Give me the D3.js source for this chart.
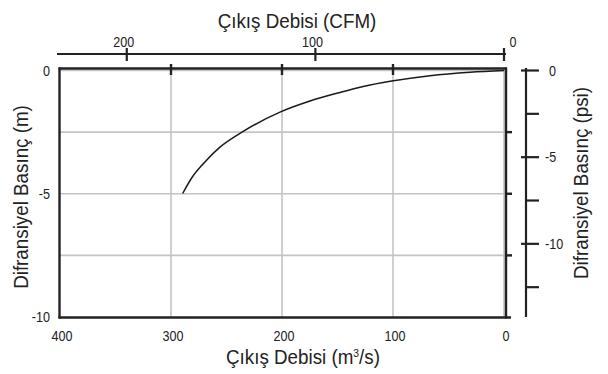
<!DOCTYPE html>
<html><head><meta charset="utf-8">
<script src="https://cdn.jsdelivr.net/npm/d3@7"></script>
<style>
body{margin:0;background:#fff;}
text{font-family:"Liberation Sans Narrow","Arial Narrow","Liberation Sans",sans-serif;fill:#222;}
</style></head><body>
<svg id="c" width="608" height="374"></svg>
<script>
// Data
const flow = [0, 30.6, 66.7, 101.2, 126.8, 147.7, 174.8, 201.8, 234.9, 255.9, 270.9, 280.5, 289.5]; // m3/s
const pressure = [0, -0.07, -0.21, -0.43, -0.65, -0.89, -1.24, -1.69, -2.47, -3.11, -3.78, -4.3, -4.99]; // m
const bottomTicks = [400, 300, 200, 100, 0];
const topTicks = [200, 100, 0];
const leftTicks = [0, -5, -10];
const rightMajor = [0, -5, -10];
const rightMinor = [-2.5, -7.5, -12.5];
const gridX = [300, 200, 100, 0];
const gridY = [0, -2.5, -5, -7.5];

const svg = d3.select("#c");
const x = d3.scaleLinear().domain([400, 0]).range([60, 504]);
const y = d3.scaleLinear().domain([0, -10]).range([70.5, 317]);
const xc = d3.scaleLinear().domain([235.4, 0]).range([60, 504]);
const yp = d3.scaleLinear().domain([0, -14.22]).range([70.5, 317]);
const TS = 0.84, HS = 0.94;
const lab = t => t === 0 ? "0" : (t < 0 ? "-" + Math.abs(t) : String(t));

// grid
svg.append("g").selectAll("line").data(gridX).join("line")
  .attr("x1", d => x(d)).attr("x2", d => x(d)).attr("y1", 68).attr("y2", 317)
  .attr("stroke", "#c4c4c4").attr("stroke-width", 1.6);
svg.append("g").selectAll("line").data(gridY).join("line")
  .attr("x1", 60).attr("x2", 505).attr("y1", d => y(d)).attr("y2", d => y(d))
  .attr("stroke", "#c4c4c4").attr("stroke-width", 1.6);

// curve
const pts = flow.map((f, i) => [f, pressure[i]]);
svg.append("path").datum(pts)
  .attr("d", d3.line().x(d => x(d[0])).y(d => y(d[1])).curve(d3.curveMonotoneX))
  .attr("fill", "none").attr("stroke", "#1a1a1a").attr("stroke-width", 1.5);

// frame
const fr = svg.append("g").attr("stroke", "#222").attr("stroke-width", 2.4).attr("fill", "none");
fr.append("line").attr("x1", 58.5).attr("x2", 507).attr("y1", 68.5).attr("y2", 68.5);
fr.append("line").attr("x1", 59.5).attr("x2", 59.5).attr("y1", 67.5).attr("y2", 318.5);
fr.append("line").attr("x1", 58.5).attr("x2", 511).attr("y1", 317.5).attr("y2", 317.5);
fr.append("line").attr("x1", 506).attr("x2", 506).attr("y1", 67.5).attr("y2", 318.5);
// frame ticks
svg.append("g").selectAll("line").data([300, 200, 100]).join("line")
  .attr("x1", d => x(d)).attr("x2", d => x(d)).attr("y1", 64).attr("y2", 75)
  .attr("stroke", "#222").attr("stroke-width", 2.4);
svg.append("g").selectAll("line").data([-2.5, -5, -7.5]).join("line")
  .attr("x1", 506).attr("x2", 512).attr("y1", d => y(d)).attr("y2", d => y(d))
  .attr("stroke", "#222").attr("stroke-width", 2.4);

// bottom tick labels
svg.append("g").selectAll("text").data(bottomTicks).join("text")
  .attr("transform", d => `translate(${x(d) + 2},341) scale(${TS},1)`).attr("text-anchor", "middle")
  .attr("font-size", 15).text(lab);
// left tick labels
svg.append("g").selectAll("text").data(leftTicks).join("text")
  .attr("transform", d => `translate(50,${y(d) + 5}) scale(${TS},1)`).attr("text-anchor", "end")
  .attr("font-size", 15).text(lab);

// top axis
const ta = svg.append("g");
ta.append("line").attr("x1", 57).attr("x2", 506).attr("y1", 54).attr("y2", 54)
  .attr("stroke", "#222").attr("stroke-width", 2.2);
ta.selectAll("line.t").data(topTicks).join("line").attr("class", "t")
  .attr("x1", d => xc(d)).attr("x2", d => xc(d)).attr("y1", 48).attr("y2", 61)
  .attr("stroke", "#222").attr("stroke-width", 2.2);
ta.selectAll("text").data(topTicks).join("text")
  .attr("transform", d => `translate(${xc(d) + (d === 0 ? 9 : -3)},46.5) scale(${TS},1)`).attr("text-anchor", "middle")
  .attr("font-size", 15).text(lab);
svg.append("text").attr("transform", `translate(297,27.5) scale(${HS},1)`).attr("text-anchor", "middle")
  .attr("font-size", 20).text("Çıkış Debisi (CFM)");

// right axis
const ra = svg.append("g");
ra.append("line").attr("x1", 526).attr("x2", 526).attr("y1", 68).attr("y2", 317)
  .attr("stroke", "#222").attr("stroke-width", 2.2);
ra.selectAll("line.mj").data(rightMajor).join("line").attr("class", "mj")
  .attr("x1", 521).attr("x2", 539).attr("y1", d => yp(d)).attr("y2", d => yp(d))
  .attr("stroke", "#222").attr("stroke-width", 2.2);
ra.selectAll("line.mn").data(rightMinor).join("line").attr("class", "mn")
  .attr("x1", 526).attr("x2", 539).attr("y1", d => yp(d)).attr("y2", d => yp(d))
  .attr("stroke", "#222").attr("stroke-width", 2.2);
ra.selectAll("text").data(rightMajor).join("text")
  .attr("transform", d => `translate(${d === 0 ? 549 : 545},${yp(d) + 5}) scale(${TS},1)`).attr("text-anchor", "start")
  .attr("font-size", 15).text(lab);

// axis titles
svg.append("text").attr("transform", `translate(303,364) scale(${HS},1)`).attr("text-anchor", "middle")
  .attr("font-size", 20).html('Çıkış Debisi (m<tspan dy="-7" font-size="11">3</tspan><tspan dy="7">/s)</tspan>');
svg.append("text").attr("transform", `translate(28,197) rotate(-90) scale(${HS},1)`).attr("text-anchor", "middle")
  .attr("font-size", 20).text("Difransiyel Basınç (m)");
svg.append("text").attr("transform", `translate(588,183) rotate(-90) scale(${HS},1)`).attr("text-anchor", "middle")
  .attr("font-size", 20).text("Difransiyel Basınç (psi)");
</script></body></html>
